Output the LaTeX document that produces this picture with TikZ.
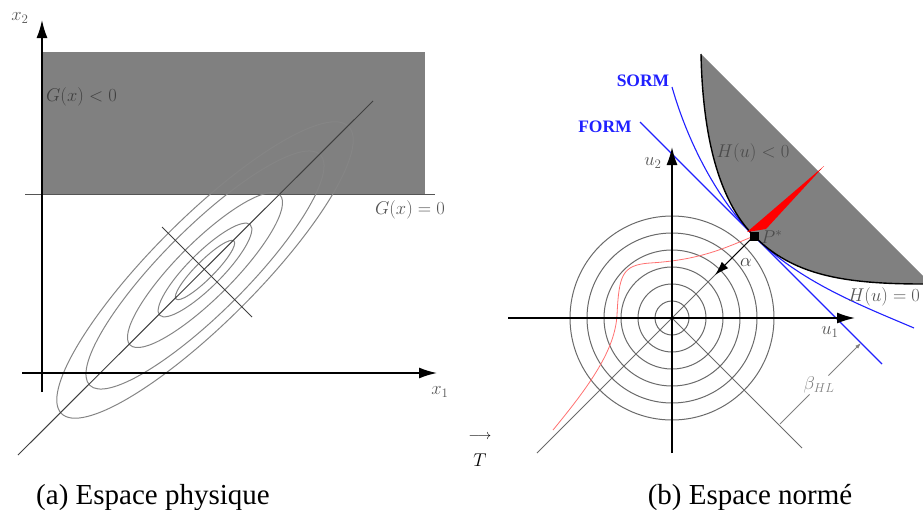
\RequirePackage{fix-cm}
\documentclass[tikz,border=0pt]{standalone}
\usepackage[no-math]{fontspec}
\setmainfont{Liberation Serif}
\usetikzlibrary{arrows.meta, positioning, calc}
\definecolor{failgray}{HTML}{808080}
\definecolor{labelgray}{HTML}{555555}
\definecolor{contour}{HTML}{858585}
\definecolor{ring}{HTML}{6A6A6A}
\definecolor{formblue}{HTML}{2020FF}
\definecolor{pathred}{HTML}{FF7070}
\tikzset{
    axisline/.style={
        line width=1.6pt, -{Latex[length=18pt, width=11pt]}
    },
    axlabel/.style={
        text=labelgray, font=\fontsize{18.5}{20}\selectfont, inner sep=1pt
    },
    contourline/.style={
        draw=contour, line width=1pt
    },
    ringline/.style={
        draw=ring, line width=1pt
    },
    guide/.style={
        draw=black!75, line width=1pt
    },
    approx/.style={
        draw=formblue, line width=1.1pt
    },
    approxlabel/.style={
        text=formblue, font=\fontsize{17.5}{19}\selectfont\bfseries
    },
    dimline/.style={
        draw=black!50, line width=0.8pt
    },
    caption/.style={
        font=\fontsize{29}{31}\selectfont, anchor=base
    }
}

\begin{document}
\begin{tikzpicture}[x=1pt, y=-1pt]
    \useasboundingbox (0,0) rectangle (923,509);

    \coordinate (x1from) at (22,373);
    \coordinate (x1tip)  at (437,373);
    \coordinate (x2from) at (42,392);
    \coordinate (x2tip)  at (42,20);
    \coordinate (Gleft)  at (25,194);
    \coordinate (Gright) at (435,194);
    \coordinate (mean)   at (205,270);
    \coordinate (diagA)  at (18,455);
    \coordinate (diagB)  at (373,101);
    \coordinate (crossA) at (162,227);
    \coordinate (crossB) at (252,317);

    \fill[failgray] (42,52) rectangle (425,194);
    \draw[labelgray, line width=1pt] (Gleft) -- (Gright);
    \foreach \a/\b in {203/52, 163/42, 106/28, 64/17, 41/9}
        \draw[contourline, rotate around={45:(mean)}] (mean) ellipse [x radius=\a, y radius=\b];
    \draw[guide] (diagA) -- (diagB);
    \draw[guide] (crossA) -- (crossB);
    \draw[axisline] (x1from) -- (x1tip);
    \draw[axisline] (x2from) -- (x2tip);

    \node[axlabel]                         (x2lbl) at (20,18)  {$x_2$};
    \node[axlabel]                         (x1lbl) at (440,392) {$x_1$};
    \node[axlabel, text=black!75, anchor=west] (Gneg) at (45,97) {$G(x)<0$};
    \node[axlabel]                         (Gzero) at (410,210) {$G(x)=0$};

    \coordinate (origin) at (672,318);
    \coordinate (u1from) at (508,318);
    \coordinate (u1tip)  at (855,318);
    \coordinate (u2from) at (672,453);
    \coordinate (u2tip)  at (672,147);
    \coordinate (Pstar)  at (754,236);
    \coordinate (swend)  at (537,453);
    \coordinate (seend)  at (802,448);
    \coordinate (Htop)   at (701,54);
    \coordinate (Hend)   at (923,284);
    \coordinate (alphatip) at (715,275);
    \coordinate (bfoot)  at (780,424);
    \coordinate (btip)   at (861,343);

    \fill[failgray] (Htop) .. controls (703,150) and (724,206) .. (Pstar)
        .. controls (792,274) and (840,284) .. (Hend) -- (923,276) -- cycle;

    \foreach \r in {1,...,6}
        \draw[ringline] (origin) circle [radius=17*\r];
    \draw[ringline] (swend) -- (Pstar);
    \draw[ringline] (origin) -- (seend);

    \draw[pathred, line width=0.8pt] (553,430) .. controls (590,385) and (615,350) .. (617,315)
        .. controls (619,275) and (622,265) .. (650,263)
        .. controls (700,260) and (725,248) .. (Pstar);

    \draw[approx] (640,122) -- (882,364);
    \draw[approx] (672,87) .. controls (690,150) and (722,204) .. (Pstar)
        .. controls (800,282) and (860,305) .. (914,328);
    \draw[line width=1.4pt] (Htop) .. controls (703,150) and (724,206) .. (Pstar)
        .. controls (792,274) and (840,284) .. (Hend);

    \fill[red] (747,232) -- (824,166) -- (766,229) -- cycle;

    \draw[axisline] (u1from) -- (u1tip);
    \draw[axisline] (u2from) -- (u2tip);
    \draw[line width=1pt, -{Latex[length=14pt, width=9pt]}] (Pstar) -- (alphatip);
    \node[fill=black, minimum size=9pt, inner sep=0pt] (Psq) at (Pstar) {};

    \node[axlabel]                    (u2lbl) at (653,163) {$u_2$};
    \node[axlabel]                    (u1lbl) at (830,332) {$u_1$};
    \node[axlabel, text=black!70, anchor=west] (Plbl) at (760,237) {$P^*$};
    \node[axlabel, text=black!75]     (alpha) at (746,263) {$\alpha$};
    \node[axlabel, text=black!70]     (Hneg)  at (753,153) {$H(u)<0$};
    \node[axlabel]                    (Hzero) at (884,297) {$H(u)=0$};
    \node[approxlabel]                (sorm)  at (643,81)  {SORM};
    \node[approxlabel]                (form)  at (605,127) {FORM};

    \node[axlabel, text=black!50]     (beta)  at (819,385) {$\beta_{HL}$};
    \draw[dimline] (bfoot) -- (beta);
    \draw[dimline, -{Latex[length=6pt, width=4pt]}] (beta) -- (btip);

    \node[axlabel, text=black, align=center, font=\fontsize{18.5}{27}\selectfont] (Tmap) at (480,450)
        {{\fontsize{14}{14}\selectfont$\longrightarrow$}\\$T$};

    \node[caption] (capa) at (153,504) {(a) Espace physique};
    \node[caption] (capb) at (750,504) {(b) Espace normé};

\end{tikzpicture}
\end{document}
